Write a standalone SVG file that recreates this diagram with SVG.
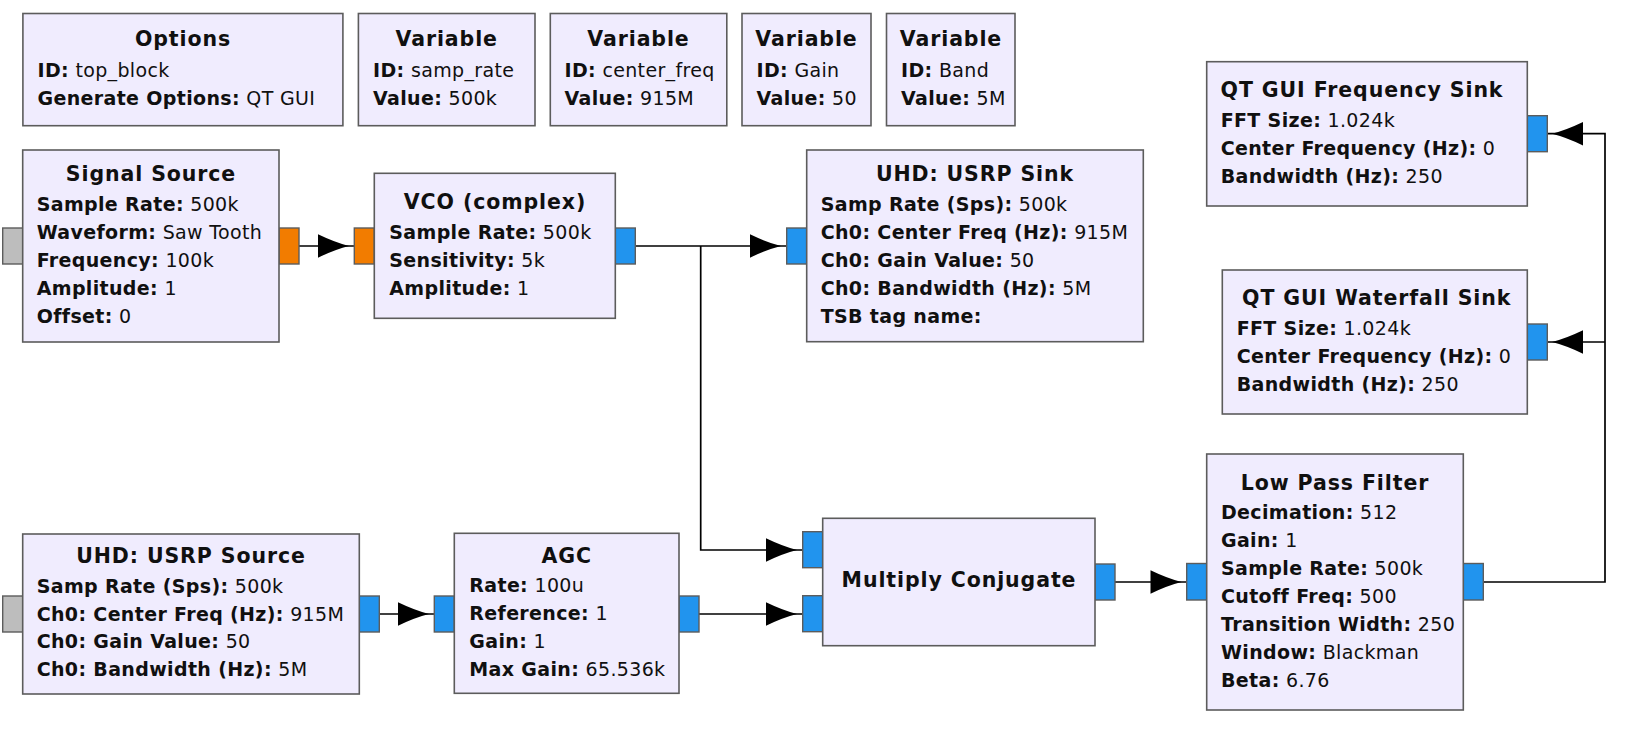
<svg xmlns="http://www.w3.org/2000/svg" xmlns:xlink="http://www.w3.org/1999/xlink" width="1629" height="741" viewBox="0 0 1629 741">
<style>
.blk{fill:#F0ECFE;stroke:#5C5C5C;stroke-width:1.6}
.pb{fill:#2194EE;stroke:#5C5C5C;stroke-width:1.4}
.po{fill:#F27C00;stroke:#5C5C5C;stroke-width:1.4}
.pg{fill:#BDBDBD;stroke:#5C5C5C;stroke-width:1.4}
text{font-family:"DejaVu Sans","Noto Sans",sans-serif;font-size:19px;letter-spacing:0.35px;fill:#101010}
.t{font-weight:bold;text-anchor:middle;font-size:20.5px;letter-spacing:0.9px}
.k{font-weight:bold}
.w{fill:none;stroke:#000;stroke-width:1.7}
.ah{fill:#000}
</style>
<defs>
<path id="ar" d="M-31,-11.7 Q-14,-3.5 0,0 Q-14,3.5 -31,11.7 Z"/>
</defs>
<rect width="1629" height="741" fill="#fff"/>
<g id="connectors">
<path class="w" d="M299,246H354"/>
<use href="#ar" class="ah" transform="translate(349,246)"/>
<path class="w" d="M635,246H787"/>
<use href="#ar" class="ah" transform="translate(781,246)"/>
<path class="w" d="M700.7,246V550H803"/>
<use href="#ar" class="ah" transform="translate(797,550)"/>
<path class="w" d="M379,614H435"/>
<use href="#ar" class="ah" transform="translate(429,614)"/>
<path class="w" d="M699,614H803"/>
<use href="#ar" class="ah" transform="translate(797,614)"/>
<path class="w" d="M1115,582H1187"/>
<use href="#ar" class="ah" transform="translate(1181.5,582)"/>
<path class="w" d="M1483,582H1605V133.7H1547"/>
<use href="#ar" class="ah" transform="translate(1552,133.7) rotate(180)"/>
<path class="w" d="M1605,342H1547"/>
<use href="#ar" class="ah" transform="translate(1552,342) rotate(180)"/>
</g>
<g id="options">
<rect class="blk" x="22.9" y="13.5" width="320" height="112.2"/>
<text class="t" x="183" y="46">Options</text>
<text x="37.5" y="77"><tspan class="k">ID:</tspan> top_block</text>
<text x="37.5" y="105"><tspan class="k">Generate Options:</tspan> QT GUI</text>
</g>
<g id="var_samp_rate">
<rect class="blk" x="358.4" y="13.5" width="176.6" height="112.2"/>
<text class="t" x="446.7" y="46">Variable</text>
<text x="373" y="77"><tspan class="k">ID:</tspan> samp_rate</text>
<text x="373" y="105"><tspan class="k">Value:</tspan> 500k</text>
</g>
<g id="var_center_freq">
<rect class="blk" x="550.3" y="13.5" width="176.5" height="112.2"/>
<text class="t" x="638.5" y="46">Variable</text>
<text x="564.5" y="77"><tspan class="k">ID:</tspan> center_freq</text>
<text x="564.5" y="105"><tspan class="k">Value:</tspan> 915M</text>
</g>
<g id="var_gain">
<rect class="blk" x="742" y="13.5" width="129" height="112.2"/>
<text class="t" x="806.5" y="46">Variable</text>
<text x="756.5" y="77"><tspan class="k">ID:</tspan> Gain</text>
<text x="756.5" y="105"><tspan class="k">Value:</tspan> 50</text>
</g>
<g id="var_band">
<rect class="blk" x="886.5" y="13.5" width="128.5" height="112.2"/>
<text class="t" x="951" y="46">Variable</text>
<text x="901" y="77"><tspan class="k">ID:</tspan> Band</text>
<text x="901" y="105"><tspan class="k">Value:</tspan> 5M</text>
</g>
<g id="signal_source">
<rect class="pg" x="2.7" y="228" width="20" height="36"/>
<rect class="po" x="279" y="228" width="20" height="36"/>
<rect class="blk" x="22.7" y="150" width="256.3" height="192"/>
<text class="t" x="151" y="181">Signal Source</text>
<text x="36.7" y="211"><tspan class="k">Sample Rate:</tspan> 500k</text>
<text x="36.7" y="239"><tspan class="k">Waveform:</tspan> Saw Tooth</text>
<text x="36.7" y="267"><tspan class="k">Frequency:</tspan> 100k</text>
<text x="36.7" y="295"><tspan class="k">Amplitude:</tspan> 1</text>
<text x="36.7" y="323"><tspan class="k">Offset:</tspan> 0</text>
</g>
<g id="vco">
<rect class="po" x="354.3" y="228" width="20" height="36"/>
<rect class="pb" x="615.3" y="228" width="20" height="36"/>
<rect class="blk" x="374.3" y="173.3" width="241" height="145"/>
<text class="t" x="495" y="209">VCO (complex)</text>
<text x="389.3" y="239"><tspan class="k">Sample Rate:</tspan> 500k</text>
<text x="389.3" y="267"><tspan class="k">Sensitivity:</tspan> 5k</text>
<text x="389.3" y="294.5"><tspan class="k">Amplitude:</tspan> 1</text>
</g>
<g id="usrp_sink">
<rect class="pb" x="786.7" y="228" width="20" height="36"/>
<rect class="blk" x="806.7" y="150" width="336.6" height="191.7"/>
<text class="t" x="975" y="181">UHD: USRP Sink</text>
<text x="820.7" y="211"><tspan class="k">Samp Rate (Sps):</tspan> 500k</text>
<text x="820.7" y="239"><tspan class="k">Ch0: Center Freq (Hz):</tspan> 915M</text>
<text x="820.7" y="267"><tspan class="k">Ch0: Gain Value:</tspan> 50</text>
<text x="820.7" y="294.5"><tspan class="k">Ch0: Bandwidth (Hz):</tspan> 5M</text>
<text x="820.7" y="323"><tspan class="k">TSB tag name:</tspan></text>
</g>
<g id="freq_sink">
<rect class="pb" x="1527.3" y="115.7" width="20" height="36"/>
<rect class="blk" x="1206.7" y="61.7" width="320.6" height="144.3"/>
<text class="t" x="1362" y="97">QT GUI Frequency Sink</text>
<text x="1220.7" y="127"><tspan class="k">FFT Size:</tspan> 1.024k</text>
<text x="1220.7" y="154.5"><tspan class="k">Center Frequency (Hz):</tspan> 0</text>
<text x="1220.7" y="182.5"><tspan class="k">Bandwidth (Hz):</tspan> 250</text>
</g>
<g id="waterfall_sink">
<rect class="pb" x="1527.3" y="324" width="20" height="36"/>
<rect class="blk" x="1222.3" y="270" width="305" height="144"/>
<text class="t" x="1376.7" y="305">QT GUI Waterfall Sink</text>
<text x="1236.7" y="335"><tspan class="k">FFT Size:</tspan> 1.024k</text>
<text x="1236.7" y="363"><tspan class="k">Center Frequency (Hz):</tspan> 0</text>
<text x="1236.7" y="391"><tspan class="k">Bandwidth (Hz):</tspan> 250</text>
</g>
<g id="usrp_source">
<rect class="pg" x="2.7" y="596" width="20" height="36"/>
<rect class="pb" x="359.3" y="596" width="20" height="36"/>
<rect class="blk" x="22.7" y="534" width="336.6" height="160"/>
<text class="t" x="191" y="563">UHD: USRP Source</text>
<text x="36.7" y="593"><tspan class="k">Samp Rate (Sps):</tspan> 500k</text>
<text x="36.7" y="620.5"><tspan class="k">Ch0: Center Freq (Hz):</tspan> 915M</text>
<text x="36.7" y="648"><tspan class="k">Ch0: Gain Value:</tspan> 50</text>
<text x="36.7" y="676"><tspan class="k">Ch0: Bandwidth (Hz):</tspan> 5M</text>
</g>
<g id="agc">
<rect class="pb" x="434.3" y="596" width="20" height="36"/>
<rect class="pb" x="679" y="596" width="20" height="36"/>
<rect class="blk" x="454.3" y="533.3" width="224.7" height="160"/>
<text class="t" x="566.7" y="563">AGC</text>
<text x="469.3" y="592"><tspan class="k">Rate:</tspan> 100u</text>
<text x="469.3" y="620"><tspan class="k">Reference:</tspan> 1</text>
<text x="469.3" y="648"><tspan class="k">Gain:</tspan> 1</text>
<text x="469.3" y="676"><tspan class="k">Max Gain:</tspan> 65.536k</text>
</g>
<g id="multiply_conjugate">
<rect class="pb" x="802.7" y="531.7" width="20" height="36"/>
<rect class="pb" x="802.7" y="595.7" width="20" height="36"/>
<rect class="pb" x="1095" y="564" width="20" height="36"/>
<rect class="blk" x="822.7" y="518.3" width="272.3" height="127.4"/>
<text class="t" x="959" y="587">Multiply Conjugate</text>
</g>
<g id="low_pass_filter">
<rect class="pb" x="1186.7" y="563.5" width="20" height="36.5"/>
<rect class="pb" x="1463.3" y="563.5" width="20" height="36.5"/>
<rect class="blk" x="1206.7" y="454" width="256.6" height="256"/>
<text class="t" x="1335" y="489.5">Low Pass Filter</text>
<text x="1221" y="518.5"><tspan class="k">Decimation:</tspan> 512</text>
<text x="1221" y="546.5"><tspan class="k">Gain:</tspan> 1</text>
<text x="1221" y="574.5"><tspan class="k">Sample Rate:</tspan> 500k</text>
<text x="1221" y="602.5"><tspan class="k">Cutoff Freq:</tspan> 500</text>
<text x="1221" y="630.5"><tspan class="k">Transition Width:</tspan> 250</text>
<text x="1221" y="658.5"><tspan class="k">Window:</tspan> Blackman</text>
<text x="1221" y="686.5"><tspan class="k">Beta:</tspan> 6.76</text>
</g>
</svg>
